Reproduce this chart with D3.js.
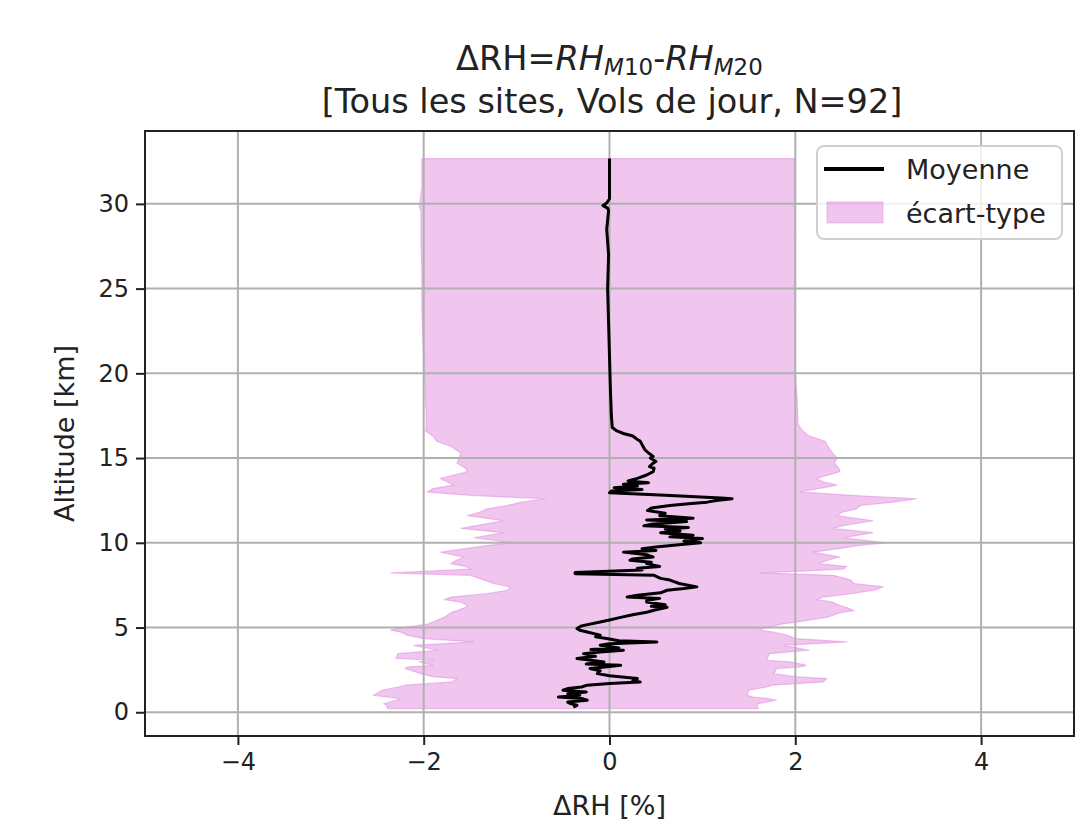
<!DOCTYPE html>
<html>
<head>
<meta charset="utf-8">
<script src="https://cdn.jsdelivr.net/npm/d3@7"></script>
<style>
  body { margin: 0; background: #fff; }
  svg { display: block; font-family: "DejaVu Sans", sans-serif; }
</style>
</head>
<body>
<svg id="chart" width="1085" height="824"></svg>
<script>
// mean profile (km, %)
const meanAltitude = [32.67, 31.0, 30.3, 30.05, 29.9, 29.75, 29.6, 28.5, 27.0, 25.0, 23.0, 21.0, 19.0, 17.5, 16.8, 16.6, 16.45, 16.3, 16.1, 16.0,
  15.7, 15.5, 15.3, 15.1, 15.0, 14.8, 14.7, 14.5, 14.4, 14.2, 14.0, 13.8, 13.65, 13.55, 13.45, 13.35, 13.25, 13.15, 13.05, 12.95,
  12.8, 12.65, 12.6, 12.5, 12.4, 12.3, 12.2, 12.05, 11.9, 11.75, 11.6, 11.45, 11.35, 11.25, 11.1, 11.0, 10.9, 10.8, 10.7, 10.6,
  10.45, 10.35, 10.25, 10.1, 10.0, 9.85, 9.75, 9.65, 9.55, 9.45, 9.3, 9.16, 9.05, 8.97, 8.85, 8.77, 8.6, 8.5, 8.4, 8.25, 8.18,
  8.08, 7.9, 7.8, 7.6, 7.4, 7.3, 7.2, 7.05, 6.9, 6.8, 6.72, 6.6, 6.5, 6.35, 6.25, 6.2, 6.05, 5.9, 5.75, 5.6, 5.45, 5.33, 5.1,
  4.94, 4.84, 4.74, 4.55, 4.45, 4.35, 4.22, 4.15, 4.05, 3.95, 3.8, 3.7, 3.66, 3.55, 3.46, 3.3, 3.17, 3.07, 2.97, 2.85, 2.77,
  2.67, 2.58, 2.45, 2.28, 2.15, 1.99, 1.85, 1.79, 1.7, 1.6, 1.49, 1.4, 1.3, 1.2, 1.1, 1.0, 0.9, 0.81, 0.71, 0.6, 0.51, 0.41, 0.31];
const meanRH = [0.00, 0.00, 0.0, -0.03, -0.07, -0.02, -0.01, -0.03, -0.01, -0.02, -0.01, 0.0, 0.01, 0.02, 0.03, 0.08, 0.15, 0.25, 0.3, 0.33,
  0.36, 0.38, 0.42, 0.47, 0.44, 0.5, 0.47, 0.43, 0.48, 0.47, 0.4, 0.3, 0.2, 0.42, 0.15, 0.3, 0.05, 0.35, 0.02, 0.0,
  0.6, 1.2, 1.32, 1.15, 1.05, 0.85, 0.65, 0.45, 0.41, 0.6, 0.54, 0.9, 0.4, 0.83, 0.45, 0.37, 0.85, 0.6, 0.76, 0.55,
  0.9, 0.65, 1.0, 0.8, 0.98, 0.69, 0.5, 0.35, 0.5, 0.15, 0.4, 0.47, 0.25, 0.22, 0.45, 0.4, 0.54, 0.3, 0.35, -0.37, -0.37,
  0.48, 0.55, 0.65, 0.75, 0.94, 0.8, 0.62, 0.55, 0.3, 0.19, 0.54, 0.4, 0.4, 0.6, 0.45, 0.62, 0.5, 0.4, 0.25, 0.12, 0.0, -0.1, -0.3,
  -0.35, -0.32, -0.24, -0.1, -0.15, -0.03, 0.1, 0.51, 0.0, -0.1, 0.1, -0.2, 0.15, -0.1, -0.28, -0.15, -0.35, -0.2, -0.06, -0.25, 0.12,
  -0.05, -0.21, -0.1, -0.13, 0.0, 0.3, 0.25, 0.33, 0.0, -0.24, -0.3, -0.45, -0.5, -0.25, -0.45, -0.32, -0.55, -0.3, -0.24, -0.45, -0.42, -0.35, -0.39];

// standard-deviation envelope (mean - std, mean + std)
const bandAltitude = [32.67, 31.0, 30.1, 29.9, 29.6, 28.0, 26.0, 24.0, 22.0, 20.0, 18.5, 17.0, 16.6, 16.3, 16.0, 15.7, 15.3, 15.0, 14.7, 14.4, 14.2,
  13.8, 13.6, 13.4, 13.2, 13.0, 12.8, 12.6, 12.4, 12.2, 12.0, 11.8, 11.6, 11.3, 11.0, 10.85, 10.6, 10.3, 10.0, 9.85, 9.7, 9.45, 9.16, 8.97,
  8.77, 8.6, 8.45, 8.22, 8.08, 7.8, 7.6, 7.4, 7.2, 7.0, 6.8, 6.65, 6.5, 6.3, 6.2, 6.0, 5.9, 5.6, 5.33, 5.2, 4.94, 4.84, 4.74, 4.55, 4.35,
  4.15, 3.95, 3.66, 3.46, 3.17, 3.07, 2.97, 2.77, 2.67, 2.58, 2.28, 2.1, 1.99, 1.79, 1.6, 1.49, 1.3, 1.0, 0.9, 0.81, 0.71, 0.51, 0.41, 0.22];
const bandLow = [-2.02, -2.02, -2.04, -2.05, -2.03, -2.03, -2.02, -2.02, -2.01, -1.99, -1.98, -1.97, -1.98, -1.9, -1.86, -1.71, -1.6, -1.62, -1.64, -1.55, -1.53,
  -1.82, -1.75, -1.68, -1.9, -1.96, -1.5, -0.69, -0.95, -1.1, -1.32, -1.4, -1.53, -1.14, -1.45, -1.6, -1.14, -1.46, -1.03, -1.3, -1.5, -1.82, -1.57, -1.65,
  -1.71, -1.55, -1.5, -2.36, -1.5, -1.35, -1.25, -1.07, -1.1, -1.32, -1.7, -1.78, -1.6, -1.53, -1.55, -1.64, -1.7, -1.78, -1.9, -1.96, -2.3, -2.36, -2.25, -2.18, -2.0,
  -1.46, -2.11, -1.85, -2.28, -2.3, -1.89, -2.05, -1.9, -2.18, -2.2, -2.03, -1.9, -1.64, -1.7, -2.2, -2.28, -2.45, -2.54, -2.4, -2.25, -2.3, -2.43, -2.4, -2.39];
const bandHigh = [1.99, 1.99, 1.99, 1.98, 2.0, 1.99, 2.0, 1.99, 2.0, 2.0, 2.02, 2.03, 2.08, 2.15, 2.32, 2.35, 2.4, 2.45, 2.42, 2.47, 2.48,
  2.23, 2.3, 2.45, 2.25, 2.05, 2.6, 3.31, 3.05, 2.7, 2.66, 2.5, 2.45, 2.84, 2.5, 2.41, 2.84, 2.52, 2.98, 2.7, 2.52, 2.19, 2.48, 2.35,
  2.26, 2.55, 2.52, 1.62, 2.41, 2.6, 2.63, 2.95, 2.85, 2.6, 2.3, 2.23, 2.4, 2.48, 2.55, 2.63, 2.5, 2.34, 2.02, 1.85, 1.65, 1.62, 1.75, 1.91, 2.0,
  2.56, 1.87, 2.15, 1.72, 1.7, 1.69, 1.95, 2.12, 2.05, 1.8, 1.77, 2.0, 2.34, 2.3, 1.75, 1.69, 1.5, 1.48, 1.55, 1.7, 1.8, 1.6, 1.59, 1.6];

const xTicks = [-4, -2, 0, 2, 4];
const yTicks = [0, 5, 10, 15, 20, 25, 30];
const legendLabels = ['Moyenne', 'écart-type'];

const meanRows = meanAltitude.map((a, i) => ({ a, v: meanRH[i] }));
const bandRows = bandAltitude.map((a, i) => ({ a, lo: bandLow[i], hi: bandHigh[i] }));

const m = { t: 131, r: 11, b: 88, l: 145 };
const W = 1085, H = 824;
const x = d3.scaleLinear().domain([-5, 5]).range([m.l, W - m.r]);
const y = d3.scaleLinear().domain([-1.4, 34.3]).range([H - m.b, m.t]);
const svg = d3.select('#chart');
const fill = 'orchid';

svg.append('clipPath').attr('id', 'plot').append('rect')
  .attr('x', m.l).attr('y', m.t).attr('width', W - m.r - m.l).attr('height', H - m.b - m.t);

// std band
svg.append('path').datum(bandRows).attr('clip-path', 'url(#plot)')
  .attr('d', d3.area().y(d => y(d.a)).x0(d => x(d.lo)).x1(d => x(d.hi)))
  .attr('fill', fill).attr('fill-opacity', 0.4)
  .attr('stroke', fill).attr('stroke-opacity', 0.4).attr('stroke-width', 1.2);

// grid
const grid = svg.append('g').attr('stroke', '#b0b0b0').attr('stroke-width', 2);
grid.selectAll('line.gx').data(xTicks).join('line')
  .attr('x1', d => x(d)).attr('x2', d => x(d)).attr('y1', m.t).attr('y2', H - m.b);
grid.selectAll('line.gy').data(yTicks).join('line')
  .attr('y1', d => y(d)).attr('y2', d => y(d)).attr('x1', m.l).attr('x2', W - m.r);

// mean profile
svg.append('path').datum(meanRows).attr('clip-path', 'url(#plot)')
  .attr('d', d3.line().x(d => x(d.v)).y(d => y(d.a)))
  .attr('fill', 'none').attr('stroke', '#000').attr('stroke-width', 3).attr('stroke-linejoin', 'round');

// axes
const fmt = d => d < 0 ? '\u2212' + Math.abs(d) : String(d);
const ax = svg.append('g').attr('transform', `translate(0,${H - m.b})`)
  .call(d3.axisBottom(x).tickValues(xTicks).tickFormat(fmt).tickSize(9).tickPadding(8));
const ay = svg.append('g').attr('transform', `translate(${m.l},0)`)
  .call(d3.axisLeft(y).tickValues(yTicks).tickSize(9).tickPadding(7));
[ax, ay].forEach(g => {
  g.select('.domain').remove();
  g.selectAll('line').attr('stroke', '#222').attr('stroke-width', 2);
  g.selectAll('text').attr('font-size', 24).attr('fill', '#222').attr('font-family', '"DejaVu Sans", sans-serif');
});

svg.append('rect').attr('x', m.l).attr('y', m.t).attr('width', W - m.r - m.l).attr('height', H - m.b - m.t)
  .attr('fill', 'none').attr('stroke', '#222').attr('stroke-width', 2);

// labels
svg.append('text').attr('x', x(0)).attr('y', 815).attr('text-anchor', 'middle')
  .attr('font-size', 27).attr('fill', '#222').text('ΔRH [%]');
svg.append('text').attr('transform', `translate(74,${(m.t + H - m.b) / 2}) rotate(-90)`)
  .attr('text-anchor', 'middle').attr('font-size', 27).attr('fill', '#222').text('Altitude [km]');

// title, two lines
const t1 = svg.append('text').attr('x', x(0)).attr('y', 70).attr('text-anchor', 'middle')
  .attr('font-size', 33.5).attr('fill', '#222');
t1.append('tspan').text('ΔRH=');
t1.append('tspan').attr('font-style', 'italic').text('RH');
t1.append('tspan').attr('font-size', 23).attr('dy', 5).attr('font-style', 'italic').text('M');
t1.append('tspan').attr('font-size', 23).text('10');
t1.append('tspan').attr('dy', -5).text('-');
t1.append('tspan').attr('font-style', 'italic').text('RH');
t1.append('tspan').attr('font-size', 23).attr('dy', 5).attr('font-style', 'italic').text('M');
t1.append('tspan').attr('font-size', 23).text('20');
svg.append('text').attr('x', 612).attr('y', 113).attr('text-anchor', 'middle')
  .attr('font-size', 33.5).attr('fill', '#222').text('[Tous les sites, Vols de jour, N=92]');

// legend
const lg = svg.append('g');
lg.append('rect').attr('x', 817).attr('y', 146).attr('width', 245).attr('height', 93).attr('rx', 7)
  .attr('fill', '#fff').attr('fill-opacity', 0.8).attr('stroke', '#d0d0d0').attr('stroke-width', 2);
lg.append('line').attr('x1', 824).attr('x2', 884).attr('y1', 169).attr('y2', 169)
  .attr('stroke', '#000').attr('stroke-width', 4);
lg.append('rect').attr('x', 827).attr('y', 202).attr('width', 56).attr('height', 21)
  .attr('fill', fill).attr('fill-opacity', 0.4).attr('stroke', fill).attr('stroke-opacity', 0.4);
lg.selectAll('text').data(legendLabels).join('text')
  .attr('x', 906).attr('y', (d, i) => 179 + i * 44)
  .attr('font-size', 27).attr('fill', '#222').text(d => d);
</script>
</body>
</html>
